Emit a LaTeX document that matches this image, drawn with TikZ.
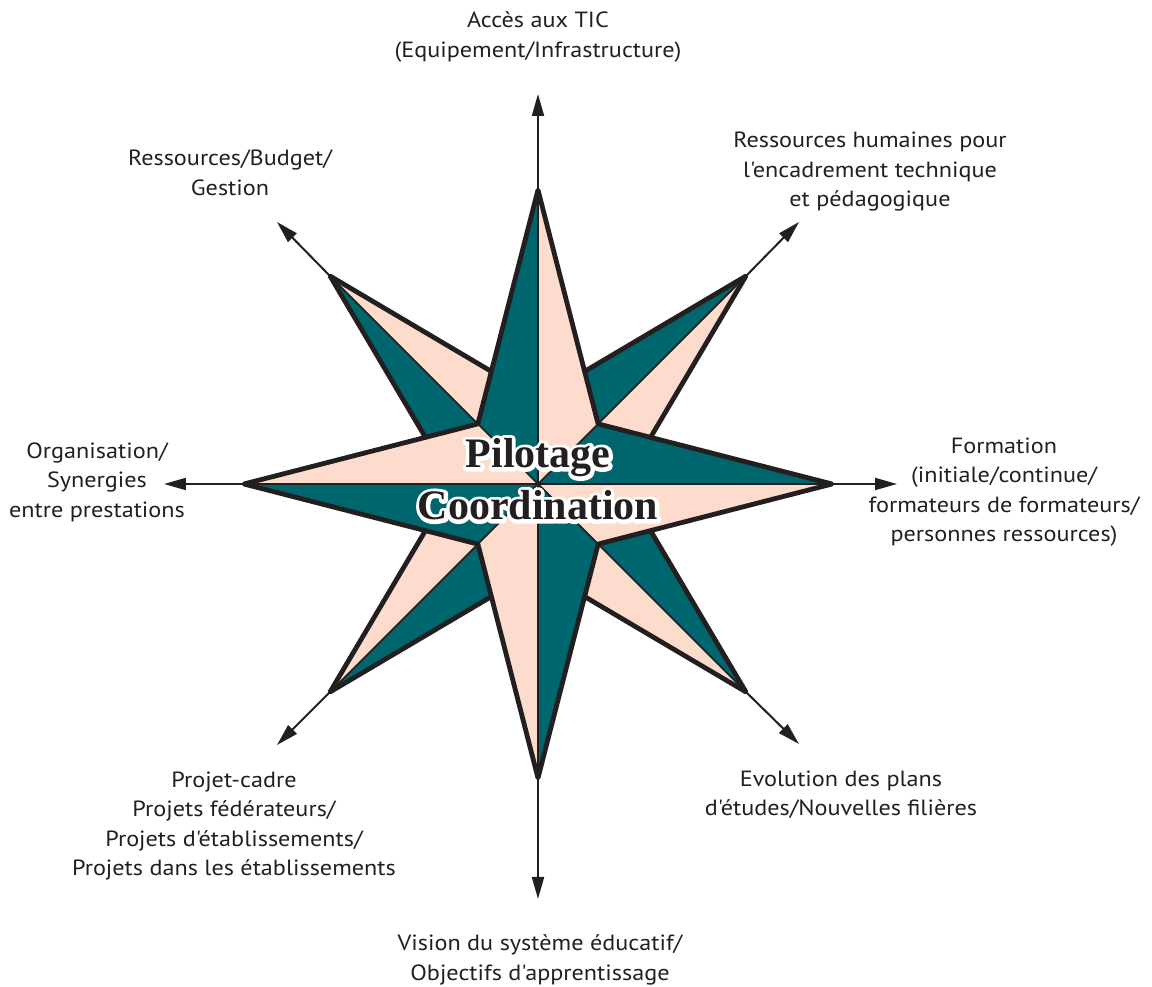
\documentclass[tikz,border=0pt]{standalone}
\usepackage{fontspec}
\newfontfamily\labelfont{PT Sans}[FakeStretch=1.1]
\newfontfamily\titlefont{Liberation Serif}
\usetikzlibrary{arrows.meta}
\definecolor{stardark}{RGB}{0,102,110}
\definecolor{starlight}{RGB}{253,220,205}
\definecolor{inkline}{RGB}{35,31,32}

% text drawn as a white outline only (stroke rendering mode)
\newcommand\outlinetext[1]{\special{pdf:literal direct 1 Tr 7.4 w 1 1 1 RG 1 j 1 J}#1\special{pdf:literal direct 0 Tr}}

\begin{document}
\begin{tikzpicture}[x=1pt,y=1pt,
  halfdark/.style={fill=stardark, draw=inkline, line width=1.6pt, line join=round},
  halflight/.style={fill=starlight, draw=inkline, line width=1.6pt, line join=round},
  rim/.style={draw=inkline, line width=4.8pt, line join=round},
  axisarrow/.style={draw=inkline, line width=2pt, -{Triangle[length=22pt,width=12pt]}},
  lbl/.style={align=center, text=inkline, inner sep=0pt, font=\labelfont\fontsize{22}{29.5}\selectfont},
  titletext/.style={anchor=base, inner sep=0pt, font=\titlefont\bfseries\fontsize{42}{50}\selectfont}]

\useasboundingbox (-538,-503) rectangle (614,484);

% centre, star tips and inner vertices
\coordinate (c) at (0,0);
\foreach \a in {0,45,...,315} {
  \coordinate (t\a) at (\a:294);
  \coordinate (i\a) at (\a:85);
}

% free ends of the eight arrows
\coordinate (eN)  at (0,390);
\coordinate (eS)  at (0,-415);
\coordinate (eE)  at (359,0);
\coordinate (eW)  at (-374,0);
\coordinate (eNE) at (261,262);
\coordinate (eNW) at (-261,262);
\coordinate (eSW) at (-261,-261);
\coordinate (eSE) at (261,-260);

\draw[axisarrow] (t90)  -- (eN);
\draw[axisarrow] (t270) -- (eS);
\draw[axisarrow] (t0)   -- (eE);
\draw[axisarrow] (t180) -- (eW);
\draw[axisarrow] (t45)  -- (eNE);
\draw[axisarrow] (t135) -- (eNW);
\draw[axisarrow] (t225) -- (eSW);
\draw[axisarrow] (t315) -- (eSE);

% diagonal star (back layer)
\foreach \a in {45,135,225,315} {
  \pgfmathtruncatemacro\p{mod(\a+45,360)}
  \pgfmathtruncatemacro\m{mod(\a+315,360)}
  \draw[halfdark]  (c) -- (t\a) -- (i\p) -- cycle;
  \draw[halflight] (c) -- (t\a) -- (i\m) -- cycle;
}
\draw[rim] (t45) -- (i90) -- (t135) -- (i180) -- (t225) -- (i270) -- (t315) -- (i0) -- cycle;

% orthogonal star (front layer)
\foreach \a in {0,90,180,270} {
  \pgfmathtruncatemacro\p{mod(\a+45,360)}
  \pgfmathtruncatemacro\m{mod(\a+315,360)}
  \draw[halfdark]  (c) -- (t\a) -- (i\p) -- cycle;
  \draw[halflight] (c) -- (t\a) -- (i\m) -- cycle;
}
\draw[rim] (t0) -- (i45) -- (t90) -- (i135) -- (t180) -- (i225) -- (t270) -- (i315) -- cycle;

% central title with a white halo
\node[titletext, text=white] (pilhalo) at (0,16) {\outlinetext{Pilotage}};
\node[titletext, text=white] (coohalo) at (0,-36) {\outlinetext{Coordination}};
\node[titletext, text=inkline] (pilotage) at (0,16) {Pilotage};
\node[titletext, text=inkline] (coordination) at (0,-36) {Coordination};

% outer labels
\node[lbl] (lN)  at (0,447) {Accès aux TIC\\(Equipement/Infrastructure)};
\node[lbl] (lNE) at (332,312) {Ressources humaines pour\\l'encadrement technique\\et pédagogique};
\node[lbl] (lNW) at (-308,311) {Ressources/Budget/\\Gestion};
\node[lbl] (lW)  at (-441,2) {Organisation/\\Synergies\\entre prestations};
\node[lbl] (lE)  at (466,-8) {Formation\\(initiale/continue/\\formateurs de formateurs/\\personnes ressources)};
\node[lbl] (lSE) at (303,-311) {Evolution des plans\\d'études/Nouvelles filières};
\node[lbl] (lSW) at (-304,-342) {Projet-cadre\\Projets fédérateurs/\\Projets d'établissements/\\Projets dans les établissements};
\node[lbl] (lS)  at (2,-476) {Vision du système éducatif/\\Objectifs d'apprentissage};
\end{tikzpicture}
\end{document}
